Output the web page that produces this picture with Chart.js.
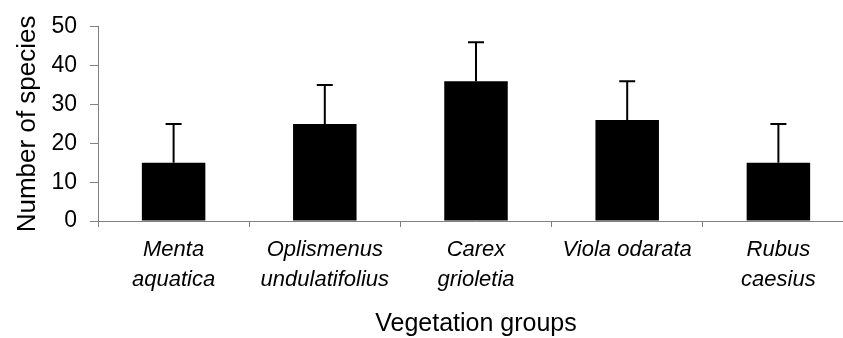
<!DOCTYPE html>
<html>
<head>
<meta charset="utf-8">
<script src="https://cdn.jsdelivr.net/npm/chart.js@4"></script>
<style>
  html, body { margin: 0; padding: 0; background: #fff; overflow: hidden; }
  #wrap { position: relative; width: 860px; height: 338px; }
</style>
</head>
<body>
<div id="wrap"><canvas id="c"></canvas></div>
<script>
// Vegetation groups and species counts (mean with upper error bar)
const groups = [
  ['Menta', 'aquatica'],
  ['Oplismenus', 'undulatifolius'],
  ['Carex', 'grioletia'],
  ['Viola odarata'],
  ['Rubus', 'caesius']
];
const speciesMean = [15, 25, 36, 26, 15];
const speciesErr = [10, 10, 10, 10, 10];
const yTicks = [0, 10, 20, 30, 40, 50];

const AXIS_GREY = '#808080';
const FONT = '"Liberation Sans", Arial, sans-serif';

// Draws the upward error whisker with a cap above each bar
const upperErrorBars = {
  id: 'upperErrorBars',
  afterDatasetsDraw(chart) {
    const ctx = chart.ctx;
    const yScale = chart.scales.y;
    const meta = chart.getDatasetMeta(0);
    ctx.save();
    ctx.strokeStyle = '#000';
    ctx.lineWidth = 2;
    meta.data.forEach((bar, i) => {
      const top = yScale.getPixelForValue(speciesMean[i] + speciesErr[i]);
      ctx.beginPath();
      ctx.moveTo(bar.x, bar.y);
      ctx.lineTo(bar.x, top);
      ctx.moveTo(bar.x - 8, top);
      ctx.lineTo(bar.x + 8, top);
      ctx.stroke();
    });
    ctx.restore();
  }
};

new Chart(document.getElementById('c'), {
  type: 'bar',
  data: {
    labels: groups,
    datasets: [{
      data: speciesMean,
      backgroundColor: '#000',
      borderWidth: 0,
      barPercentage: 0.42,
      categoryPercentage: 1
    }]
  },
  options: {
    responsive: true,
    maintainAspectRatio: false,
    animation: false,
    devicePixelRatio: 1,
    layout: { padding: { top: 23, right: 6, bottom: 0, left: 0 } },
    plugins: { legend: { display: false }, tooltip: { enabled: false } },
    scales: {
      x: {
        afterFit(scale) { scale.height = 117; },
        grid: {
          display: true,
          drawOnChartArea: false,
          offset: true,
          color: AXIS_GREY,
          tickLength: 6
        },
        border: { display: true, color: AXIS_GREY, width: 1 },
        ticks: {
          color: '#000',
          padding: 8,
          maxRotation: 0,
          autoSkip: false,
          font: { family: FONT, size: 22, style: 'italic', lineHeight: 1.36 }
        },
        title: {
          display: true,
          text: 'Vegetation groups',
          color: '#000',
          padding: { top: 0, bottom: 1 },
          font: { family: FONT, size: 25, lineHeight: 1 }
        }
      },
      y: {
        min: 0,
        max: 50,
        afterFit(scale) { scale.width = 98; },
        afterBuildTicks(scale) { scale.ticks = yTicks.map(v => ({ value: v })); },
        grid: {
          display: true,
          drawOnChartArea: false,
          color: AXIS_GREY,
          tickLength: 8
        },
        border: { display: true, color: AXIS_GREY, width: 1 },
        ticks: {
          color: '#000',
          padding: 13,
          font: { family: FONT, size: 23 }
        },
        title: {
          display: true,
          text: 'Number of species',
          color: '#000',
          padding: { top: 15, bottom: 0 },
          font: { family: FONT, size: 26, lineHeight: 1 }
        }
      }
    }
  },
  plugins: [upperErrorBars]
});
</script>
</body>
</html>
